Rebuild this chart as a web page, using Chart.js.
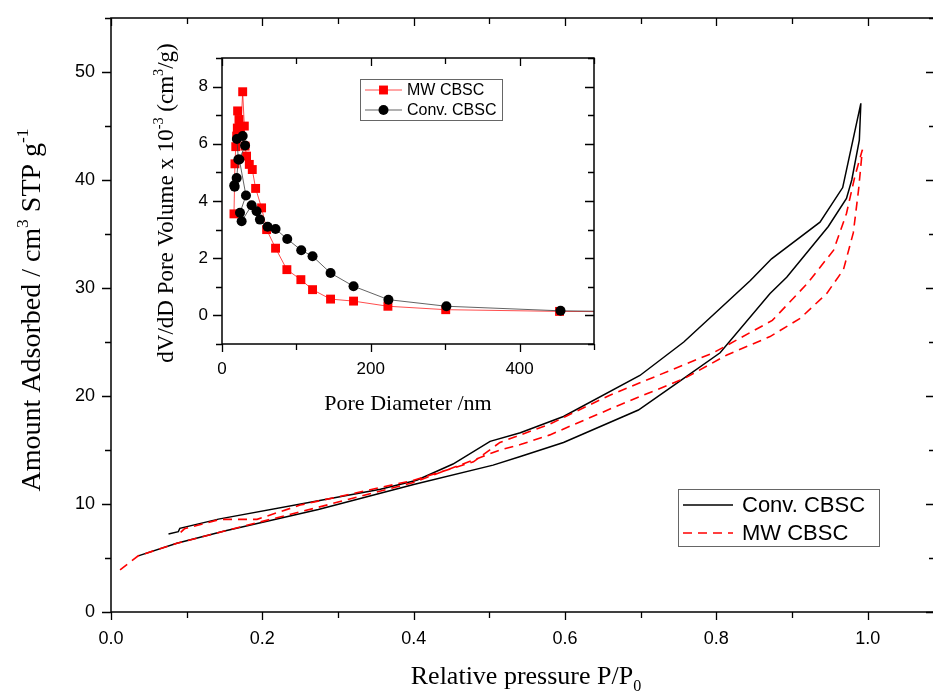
<!DOCTYPE html>
<html>
<head>
<meta charset="utf-8">
<script src="https://cdn.jsdelivr.net/npm/chart.js@4.4.0/dist/chart.umd.min.js"></script>
<style>
html, body { margin: 0; padding: 0; background: #fff; overflow: hidden; }
#wrap { position: relative; width: 933px; height: 691px; overflow: hidden; }
#mainChart { position: absolute; left: 0; top: 0; }
#insetChart { position: absolute; left: 150px; top: 30px; }
</style>
</head>
<body>
<div id="wrap">
  <canvas id="mainChart" width="940" height="691"></canvas>
  <canvas id="insetChart" width="470" height="400"></canvas>
</div>
<script>
// Isotherm data (relative pressure, volume adsorbed)
const convAdsP = [0.036, 0.087, 0.15, 0.274, 0.40, 0.505, 0.541, 0.598, 0.697, 0.748, 0.805, 0.871, 0.893, 0.948, 0.972, 0.979, 0.989, 0.991];
const convAdsV = [5.2, 6.36, 7.5, 9.5, 11.8, 13.6, 14.4, 15.7, 18.7, 21.2, 24.0, 29.5, 31.0, 35.7, 38.3, 40.0, 43.7, 47.1];
const convDesP = [0.991, 0.967, 0.937, 0.873, 0.845, 0.805, 0.757, 0.699, 0.598, 0.541, 0.501, 0.452, 0.404, 0.356, 0.274, 0.142, 0.091, 0.089, 0.076];
const convDesV = [47.1, 39.3, 36.1, 32.7, 30.7, 28.1, 25.0, 21.9, 18.1, 16.6, 15.8, 13.7, 12.2, 11.36, 10.3, 8.6, 7.75, 7.44, 7.22];

const mwAdsP = [0.012, 0.036, 0.087, 0.15, 0.274, 0.40, 0.461, 0.514, 0.541, 0.58, 0.673, 0.757, 0.814, 0.871, 0.911, 0.946, 0.968, 0.981, 0.988, 0.993];
const mwAdsV = [3.9, 5.2, 6.36, 7.5, 9.7, 12.0, 13.6, 15.0, 15.5, 16.4, 19.2, 21.6, 23.8, 25.5, 27.2, 29.5, 31.7, 35.1, 39.1, 42.8];
const mwDesP = [0.993, 0.983, 0.972, 0.955, 0.92, 0.874, 0.796, 0.66, 0.58, 0.514, 0.479, 0.40, 0.25, 0.193, 0.144, 0.097, 0.091];
const mwDesV = [42.8, 40.3, 36.9, 33.5, 30.4, 27.0, 24.0, 20.1, 17.4, 15.7, 13.9, 12.2, 9.9, 8.58, 8.58, 7.7, 7.3];

// Pore size distribution (diameter nm, dV/dD x 10^-3)
const mwDiam = [16.1, 17.4, 18.5, 19.7, 20.6, 21, 22.8, 24, 25, 27.8, 30, 31, 33, 36.7, 40.7, 45.2, 53.2, 60, 72, 87.2, 106, 121.7, 145.9, 176.8, 223, 300.7, 453.7, 600];
const mwDv = [3.55, 5.3, 5.9, 6.27, 6.55, 7.15, 6.85, 6.6, 6.3, 7.82, 6.62, 5.92, 5.57, 5.28, 5.1, 4.44, 3.76, 3.0, 2.35, 1.6, 1.25, 0.9, 0.57, 0.50, 0.32, 0.2, 0.14, 0.12];
const convDiam = [16.5, 17.0, 19.7, 22, 20, 27.8, 31, 23.3, 32.2, 24.2, 26.4, 39.8, 46.5, 51, 61.3, 72, 87.7, 106.5, 121.7, 145.9, 176.8, 223.7, 301.6, 455, 600];
const convDv = [4.55, 4.5, 4.8, 5.45, 6.17, 6.27, 5.94, 5.45, 4.19, 3.59, 3.29, 3.85, 3.64, 3.35, 3.1, 3.02, 2.67, 2.28, 2.07, 1.48, 1.02, 0.55, 0.32, 0.16, 0.12];

function toPoints(xs, ys) {
    return xs.map((x, i) => ({ x: x, y: ys[i] }));
}

// Draw text with superscript / subscript pieces, centred on (x, y)
function drawRich(ctx, parts, x, y, size, family, angle) {
    ctx.save();
    ctx.translate(x, y);
    ctx.rotate(angle);
    ctx.textBaseline = 'alphabetic';
    ctx.textAlign = 'left';
    ctx.fillStyle = '#000';
    let total = 0;
    parts.forEach(p => {
        const s = p[1] ? size * 0.62 : size;
        ctx.font = s + 'px "' + family + '"';
        total += ctx.measureText(p[0]).width;
    });
    let cx = -total / 2;
    parts.forEach(p => {
        const s = p[1] ? size * 0.62 : size;
        ctx.font = s + 'px "' + family + '"';
        const dy = p[1] === 1 ? -size * 0.42 : (p[1] === -1 ? size * 0.25 : 0);
        ctx.fillText(p[0], cx, dy);
        cx += ctx.measureText(p[0]).width;
    });
    ctx.restore();
}

function drawMarker(ctx, style, x, y, r, color) {
    ctx.fillStyle = color;
    ctx.beginPath();
    if (style === 'rect') {
        const h = r * Math.SQRT1_2;
        ctx.rect(x - h, y - h, 2 * h, 2 * h);
    } else {
        ctx.arc(x, y, r, 0, Math.PI * 2);
    }
    ctx.fill();
}

// Frame, in/out ticks, axis titles and legend box
const decoPlugin = {
    id: 'deco',
    afterDraw(chart, args, opts) {
        const ctx = chart.ctx;
        const a = chart.chartArea;
        const xs = chart.scales.x;
        const ys = chart.scales.y;
        ctx.save();
        ctx.strokeStyle = '#000';
        ctx.lineWidth = 1.5;
        ctx.strokeRect(a.left, a.top, a.right - a.left, a.bottom - a.top);

        ctx.lineWidth = 1.3;
        ctx.beginPath();
        for (let v = xs.min; v <= xs.max + 1e-9; v += opts.xMinor) {
            const val = Math.round(v / opts.xMinor) * opts.xMinor;
            const major = Math.abs(val / opts.xMajor - Math.round(val / opts.xMajor)) < 1e-6;
            const len = major ? 8 : 6;
            const px = Math.round(xs.getPixelForValue(val)) + 0.5;
            ctx.moveTo(px, a.bottom); ctx.lineTo(px, a.bottom + len);
            ctx.moveTo(px, a.top); ctx.lineTo(px, a.top + len);
        }
        const y0 = Math.ceil(ys.min / opts.yMinor) * opts.yMinor;
        for (let v = y0; v <= ys.max + 1e-9; v += opts.yMinor) {
            const val = Math.round(v / opts.yMinor) * opts.yMinor;
            const major = Math.abs(val / opts.yMajor - Math.round(val / opts.yMajor)) < 1e-6;
            const len = major ? 9 : 6;
            const py = Math.round(ys.getPixelForValue(val)) + 0.5;
            ctx.moveTo(a.left - len, py); ctx.lineTo(a.left, py);
            ctx.moveTo(a.right - len, py); ctx.lineTo(a.right, py);
        }
        ctx.stroke();

        drawRich(ctx, opts.xTitle, (a.left + a.right) / 2 + opts.xTitleShift, opts.xTitleY, opts.xTitleSize, 'Liberation Serif', 0);
        drawRich(ctx, opts.yTitle, opts.yTitleX, (a.top + a.bottom) / 2 + opts.yTitleShift, opts.yTitleSize, 'Liberation Serif', -Math.PI / 2);

        const lg = opts.legend;
        ctx.fillStyle = '#fff';
        ctx.fillRect(lg.x, lg.y, lg.w, lg.h);
        ctx.strokeStyle = '#666';
        ctx.lineWidth = 1;
        ctx.strokeRect(lg.x + 0.5, lg.y + 0.5, lg.w, lg.h);
        ctx.font = lg.font + 'px "Liberation Sans"';
        ctx.textBaseline = 'middle';
        ctx.textAlign = 'left';
        lg.items.forEach((idx, i) => {
            const ds = chart.data.datasets[idx];
            const ry = lg.y + lg.row0 + i * lg.rowH;
            ctx.strokeStyle = ds.borderColor;
            ctx.lineWidth = ds.borderWidth;
            ctx.setLineDash(ds.borderDash || []);
            ctx.beginPath();
            ctx.moveTo(lg.x + lg.lineX0, ry);
            ctx.lineTo(lg.x + lg.lineX1, ry);
            ctx.stroke();
            ctx.setLineDash([]);
            if (ds.pointRadius > 0) {
                drawMarker(ctx, ds.pointStyle, lg.x + (lg.lineX0 + lg.lineX1) / 2, ry, ds.pointRadius, ds.pointBackgroundColor);
            }
            ctx.fillStyle = '#000';
            ctx.fillText(ds.label, lg.x + lg.textX, ry + 1);
        });
        ctx.restore();
    }
};

Chart.defaults.color = '#000';
Chart.defaults.font.family = 'Liberation Sans';

function axisOpts(min, max, step, fmt, fontSize, pad, size, horizontal) {
    return {
        type: 'linear', min: min, max: max,
        afterFit: s => {
            if (horizontal) s.height = size; else s.width = size;
            s.paddingTop = 0; s.paddingBottom = 0; s.paddingLeft = 0; s.paddingRight = 0;
        },
        grid: { display: false, drawTicks: false },
        border: { display: false },
        ticks: {
            stepSize: step, includeBounds: false, autoSkip: false, maxRotation: 0,
            padding: pad, color: '#000',
            font: { family: 'Liberation Sans', size: fontSize },
            callback: fmt
        }
    };
}

// Main isotherm chart
new Chart(document.getElementById('mainChart'), {
    type: 'scatter',
    data: {
        datasets: [
            {
                label: 'MW CBSC',
                data: toPoints(mwAdsP.concat(mwDesP), mwAdsV.concat(mwDesV)),
                showLine: true, borderColor: '#ff0000', borderWidth: 1.6, borderDash: [9, 6],
                pointRadius: 0, order: 0
            },
            {
                label: 'Conv. CBSC',
                data: toPoints(convAdsP.concat(convDesP), convAdsV.concat(convDesV)),
                showLine: true, borderColor: '#000000', borderWidth: 1.5,
                pointRadius: 0, order: 1
            }
        ]
    },
    options: {
        responsive: false,
        animation: false,
        layout: { autoPadding: false, padding: { left: 0, top: 18, right: 5, bottom: 0 } },
        plugins: {
            legend: { display: false },
            tooltip: { enabled: false },
            deco: {
                xMajor: 0.2, xMinor: 0.1, yMajor: 10, yMinor: 5,
                xTitleSize: 26, yTitleSize: 28,
                xTitle: [['Relative pressure P/P', 0], ['0', -1]], xTitleY: 684, xTitleShift: 3,
                yTitle: [['Amount Adsorbed / cm', 0], ['3', 1], [' STP g', 0], ['-1', 1]], yTitleX: 40, yTitleShift: -5,
                legend: { x: 678, y: 489, w: 201, h: 57, row0: 16, rowH: 28, lineX0: 5, lineX1: 55, textX: 64, font: 22, items: [1, 0] }
            }
        },
        scales: {
            x: axisOpts(0, 1.089, 0.2, v => v.toFixed(1), 18, 16, 79, true),
            y: axisOpts(0, 55, 5, v => (v % 10 === 0 ? String(v) : ''), 18, 16, 111, false)
        }
    },
    plugins: [decoPlugin]
});

// Inset pore size distribution chart
new Chart(document.getElementById('insetChart'), {
    type: 'scatter',
    data: {
        datasets: [
            {
                label: 'MW CBSC',
                data: toPoints(mwDiam, mwDv),
                showLine: true, borderColor: 'rgba(255,0,0,0.7)', borderWidth: 1,
                pointStyle: 'rect', pointRadius: 6.3, pointBackgroundColor: '#ff0000', pointBorderWidth: 0,
                order: 1
            },
            {
                label: 'Conv. CBSC',
                data: toPoints(convDiam, convDv),
                showLine: true, borderColor: 'rgba(60,60,60,0.8)', borderWidth: 1,
                pointStyle: 'circle', pointRadius: 5, pointBackgroundColor: '#000000', pointBorderWidth: 0,
                order: 0
            }
        ]
    },
    options: {
        responsive: false,
        animation: false,
        layout: { autoPadding: false, padding: { left: 0, top: 28, right: 26, bottom: 0 } },
        plugins: {
            legend: { display: false },
            tooltip: { enabled: false },
            deco: {
                xMajor: 200, xMinor: 100, yMajor: 2, yMinor: 1,
                xTitleSize: 22, yTitleSize: 23,
                xTitle: [['Pore Diameter /nm', 0]], xTitleY: 380, xTitleShift: 0,
                yTitle: [['dV/dD Pore Volume x 10', 0], ['-3', 1], [' (cm', 0], ['3', 1], ['/g)', 0]], yTitleX: 23, yTitleShift: 2,
                legend: { x: 210, y: 49, w: 142, h: 41, row0: 11, rowH: 20, lineX0: 5, lineX1: 42, textX: 47, font: 16, items: [0, 1] }
            }
        },
        scales: {
            x: axisOpts(0, 500, 200, v => String(v), 17, 15, 86, true),
            y: axisOpts(-1, 9, 1, v => (v % 2 === 0 ? String(v) : ''), 17, 14, 72, false)
        }
    },
    plugins: [decoPlugin]
});
</script>
</body>
</html>
